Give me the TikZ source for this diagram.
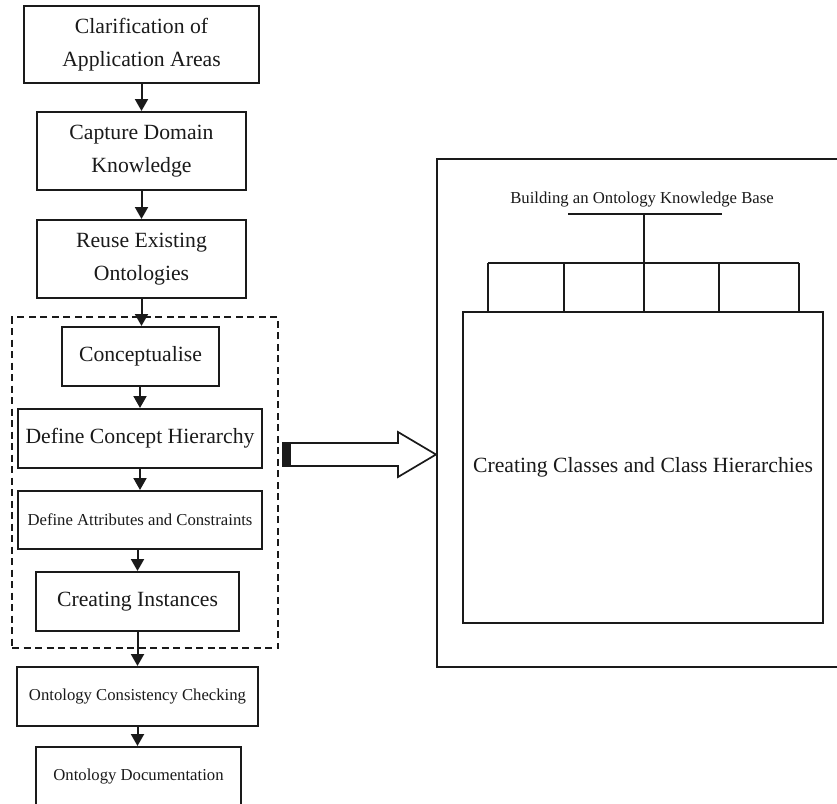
\documentclass[tikz,border=0pt]{standalone}
\usepackage{fontspec}
\setmainfont{Liberation Serif}
\usetikzlibrary{arrows.meta,calc}
\definecolor{ink}{HTML}{1A1A1A}
\begin{document}
\begin{tikzpicture}[x=1pt,y=-1pt,
  box/.style={draw=ink,line width=2pt,align=center,inner sep=0pt,text=ink,
    font=\fontsize{21.7}{33}\selectfont},
  smallbox/.style={box,font=\fontsize{16.7}{22}\selectfont},
  flow/.style={draw=ink,line width=2pt,-{Triangle[length=12pt,width=13pt]}},
  rule/.style={draw=ink,line width=2pt},
]
% page frame
\clip (0,0) rectangle (837,803);
\fill[white] (0,0) rectangle (837,803);

% ---- left column: process steps ----
\node[box,minimum width=235pt,minimum height=77pt] (clar) at (141.5,44.5)
  {Clarification of\\Application Areas};
\node[box,minimum width=209pt,minimum height=78pt] (capt) at (141.5,151)
  {Capture Domain\\Knowledge};
\node[box,minimum width=209pt,minimum height=78pt] (reuse) at (141.5,259)
  {Reuse Existing\\Ontologies};

% dashed group of modelling steps
\node[draw=ink,line width=2pt,dash pattern=on 7pt off 4.5pt,
  minimum width=266pt,minimum height=331pt,inner sep=0pt] (grp) at (145,482.5) {};

\node[box,minimum width=157pt,minimum height=59pt] (conc) at (140.5,356.5) {Conceptualise};
\node[box,minimum width=244pt,minimum height=59pt] (hier) at (140,438.5) {Define Concept Hierarchy};
\node[smallbox,minimum width=244pt,minimum height=58pt] (attr) at (140,520)
  {Define Attributes and Constraints};
\node[box,minimum width=203pt,minimum height=59pt] (inst) at (137.5,601.5) {Creating Instances};

\node[smallbox,minimum width=241pt,minimum height=59pt] (cons) at (137.5,696.5)
  {Ontology Consistency Checking};
\node[smallbox,minimum width=205pt,minimum height=58pt] (docu) at (138.5,776)
  {Ontology Documentation};

% flow arrows
\draw[flow] (clar.south) -- (clar.south |- capt.north);
\draw[flow] (capt.south) -- (capt.south |- reuse.north);
\draw[flow] (reuse.south) -- (reuse.south |- conc.north);
\draw[flow] (hier.north |- conc.south) -- (hier.north);
\draw[flow] (hier.south) -- (hier.south |- attr.north);
\draw[flow] (inst.north |- attr.south) -- (inst.north);
\draw[flow] (inst.south) -- (inst.south |- cons.north);
\draw[flow] (cons.south) -- (cons.south |- docu.north);

% ---- right panel: knowledge base ----
\node[draw=ink,line width=2pt,minimum width=423pt,minimum height=508pt,inner sep=0pt]
  (kb) at (648.5,413) {};
\node[text=ink,font=\fontsize{16.7}{20}\selectfont,inner sep=0pt] (kbt) at (642,200)
  {Building an Ontology Knowledge Base};
\node[box,minimum width=360pt,minimum height=311pt] (cls) at (643,467.5)
  {Creating Classes and Class Hierarchies};

% tree joining the title to the class box
\coordinate (root) at (644,214);
\coordinate (fork) at (644,263);
\draw[rule] (568,214) -- (722,214);
\draw[rule] (root) -- (fork);
\draw[rule] (488,263) -- (799,263);
\foreach \bx in {488,564,644,719,799}
  \draw[rule] (\bx,263) -- (\bx,312);

% hollow block arrow from the group to the knowledge base
\coordinate (at) at (283,454.5);
\coordinate (ah) at (436,454.5);
\draw[ink,line width=1.7pt,fill=white,line join=miter]
  ($(at)+(0,-11.5)$) -- (398,443) -- (398,432) -- (ah) -- (398,477) -- (398,466)
  -- ($(at)+(0,11.5)$) -- cycle;
\fill[ink] ($(at)+(0,-11.5)$) rectangle ($(at)+(8,11.5)$);
\end{tikzpicture}
\end{document}
